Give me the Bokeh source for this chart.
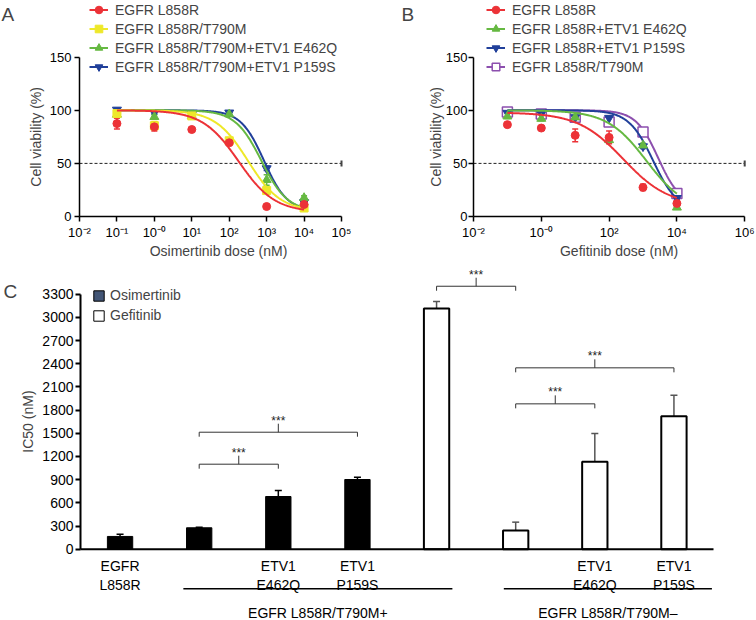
import numpy as np
from bokeh.plotting import figure
from bokeh.models import (Range1d, FixedTicker, Label, Legend, LegendItem, Whisker,
                          TeeHead, ColumnDataSource)
from bokeh.layouts import column, row
from bokeh.embed import file_html
from bokeh.resources import INLINE
from bokeh.core.properties import value

FONT = "Liberation Sans"

# ---------------- Panel A : Osimertinib dose response ----------------
doses = [0.1, 1, 10, 100, 1000, 10000]
a_labels = ["EGFR L858R", "EGFR L858R/T790M",
            "EGFR L858R/T790M+ETV1 E462Q", "EGFR L858R/T790M+ETV1 P159S"]
a_l858r = [87.5, 84.4, 81.9, 69.4, 9.4, 11.3]
a_l858r_err = [5.0, 4.0, 1.5, 1.5, 1.5, 2.0]
a_t790m = [96.9, 85.5, 94.7, 71.3, 24.4, 8.0]
a_t790m_err = [3.0, 4.0, 1.5, 1.5, 2.5, 1.5]
a_e462q = [96.0, 93.8, 94.7, 96.3, 34.4, 17.5]
a_e462q_err = [2.0, 2.0, 2.0, 1.5, 5.0, 2.0]
a_p159s = [100.5, 97.8, 96.0, 97.8, 45.3, 13.4]
a_p159s_err = [1.5, 1.5, 1.5, 1.5, 2.0, 2.0]
# fitted 4-parameter logistic: top, bottom, log10(IC50), Hill slope
a_fit_l858r = [100, 4, 2.25, 0.9]
a_fit_t790m = [100, 5, 2.5, 1.0]
a_fit_e462q = [100, 5, 2.86, 1.25]
a_fit_p159s = [100, 5, 2.93, 1.4]
a_tick_exp = [-2, -1, 0, 1, 2, 3, 4, 5]

# ---------------- Panel B : Gefitinib dose response ----------------
b_labels = ["EGFR L858R", "EGFR L858R+ETV1 E462Q",
            "EGFR L858R+ETV1 P159S", "EGFR L858R/T790M"]
b_l858r = [86.5, 83.3, 76.4, 74.5, 27.4, 12.3]
b_l858r_err = [1.5, 1.5, 6.0, 6.0, 3.0, 3.0]
b_e462q = [94.3, 92.1, 93.4, 72.0, 67.0, 8.5]
b_e462q_err = [2.0, 2.0, 2.0, 2.0, 2.0, 1.5]
b_p159s = [97.5, 96.5, 93.4, 92.8, 66.0, 17.3]
b_p159s_err = [1.5, 1.5, 1.5, 1.5, 2.0, 2.0]
b_t790m = [98.4, 96.5, 93.4, 89.0, 79.6, 21.7]
b_t790m_err = [1.5, 1.5, 1.5, 2.0, 2.0, 2.0]
b_fit_l858r = [98, 10, 2.42, 0.65]
b_fit_e462q = [100, 5, 3.1, 0.75]
b_fit_p159s = [100, 5, 3.3, 1.2]
b_fit_t790m = [100, 10, 3.45, 1.32]
b_tick_exp = [-2, 0, 2, 4, 6]

cutoff = 50
viab_ticks = [0, 50, 100, 150]

# ---------------- Panel C : IC50 bars ----------------
c_osim_pos = [0, 1, 2, 3]
c_osim = [165, 277, 682, 902]
c_osim_err = [30, 6, 78, 30]
c_gef_pos = [4, 5, 6, 7]
c_gef = [3115, 242, 1131, 1721]
c_gef_err = [90, 108, 366, 272]
c_tick_pos = [0, 2, 3, 6, 7]
c_tick_labels = ["EGFR\nL858R", "ETV1\nE462Q", "ETV1\nP159S", "ETV1\nE462Q", "ETV1\nP159S"]
c_groups = ["EGFR L858R/T790M+", "EGFR L858R/T790M\u2013"]
c_group_start = [0.8, 4.85]
c_group_end = [4.2, 7.48]
c_sig_left = [1, 1, 4, 5, 5]
c_sig_right = [2, 3, 5, 6, 7]
c_sig_y = [1100, 1514, 3403, 1881, 2347]
c_sig_text = ["***", "***", "***", "***", "***"]
c_yticks = [0, 300, 600, 900, 1200, 1500, 1800, 2100, 2400, 2700, 3000, 3300]

RED, YELLOW, GREEN, BLUE, PURPLE = "#ec3237", "#eee829", "#66b942", "#21409a", "#8c4fae"

SUP = str.maketrans("-0123456789", "\u207b\u2070\u00b9\u00b2\u00b3\u2074\u2075\u2076\u2077\u2078\u2079")


def pow_label(e):
    return "10" + ("-0" if e == 0 else str(e)).translate(SUP)


def four_pl(x, top, bottom, logc, hill):
    return bottom + (top - bottom) / (1 + 10 ** ((np.log10(x) - logc) * hill))


def style(p, size, lw=1.5):
    p.outline_line_color = None
    p.grid.visible = False
    p.background_fill_color = "white"
    p.border_fill_color = "white"
    for ax in p.axis:
        ax.axis_line_width = lw
        ax.axis_line_color = "black"
        ax.major_tick_line_width = lw
        ax.major_tick_line_color = "black"
        ax.major_tick_out = 5
        ax.major_tick_in = 0
        ax.minor_tick_out = 0
        ax.minor_tick_in = 0
        ax.major_label_text_font = FONT
        ax.major_label_text_font_size = size
        ax.major_label_text_color = "black"
        ax.major_label_standoff = 3


def add_series(p, y, err, color, marker, size, fit, fill=None, lw=1):
    gx = np.logspace(np.log10(doses[0]), np.log10(doses[-1]), 300)
    lr = p.line(gx, four_pl(gx, *fit), line_color=color, line_width=2)
    yy = np.array(y)
    ee = np.array(err)
    src = ColumnDataSource(dict(x=doses, y=y, lo=yy - ee, hi=yy + ee))
    p.add_layout(Whisker(source=src, base="x", lower="lo", upper="hi",
                         line_color=color, line_width=1.5,
                         upper_head=TeeHead(size=6, line_color=color, line_width=1.5),
                         lower_head=TeeHead(size=6, line_color=color, line_width=1.5)))
    sr = p.scatter("x", "y", source=src, marker=marker, size=size,
                   fill_color=fill if fill is not None else color,
                   line_color=color, line_width=lw)
    return lr, sr


PX_PER_UNIT = 159.3 / 150.0   # vertical pixels per % viability
H_AB = 262
Y0_PX = 216                     # pixel row of 0 %


def dose_panel(width, axis_px, ppd, xend_exp, exps, series, labels, letter, letter_x,
               xtitle, xtitle_off, legend_x, ytitle_off, standoff):
    ytop = Y0_PX / PX_PER_UNIT
    ybot = -(H_AB - Y0_PX) / PX_PER_UNIT
    lo_exp = exps[0] - axis_px / ppd
    hi_exp = exps[0] + (width - axis_px) / ppd
    p = figure(width=width, height=H_AB, x_axis_type="log",
               x_range=Range1d(10.0 ** lo_exp, 10.0 ** hi_exp),
               y_range=Range1d(ybot, ytop), output_backend="svg", toolbar_location=None,
               min_border=0, min_border_left=0, min_border_right=0, min_border_top=0,
               min_border_bottom=0)
    style(p, "13px")
    xmin, xmax = 10.0 ** exps[0], 10.0 ** xend_exp
    p.xaxis.fixed_location = 0
    p.xaxis.bounds = (xmin, xmax)
    p.xaxis.ticker = FixedTicker(ticks=[10.0 ** e for e in exps])
    p.xaxis.major_label_overrides = {10.0 ** e: pow_label(e) for e in exps}
    p.yaxis.fixed_location = xmin
    p.yaxis.ticker = FixedTicker(ticks=viab_ticks)
    p.yaxis.bounds = (viab_ticks[0], viab_ticks[-1])
    p.yaxis.major_label_standoff = standoff
    p.segment(x0=[xmin], x1=[xmax], y0=[cutoff], y1=[cutoff], line_color="#222222",
              line_width=1, line_dash="3 2")
    p.scatter(x=[xmax], y=[cutoff], marker="dash", angle=np.pi / 2,
              size=6, line_color="#444444", line_width=2)
    rends = []
    for s in reversed(series):
        rends.append(add_series(p, *s))
    rends = rends[::-1]
    items = [LegendItem(label=lab, renderers=list(r)) for lab, r in zip(labels, rends)]
    leg = Legend(items=items, location=(legend_x, H_AB - 76), glyph_width=19, glyph_height=19,
                 label_height=19, label_standoff=7, spacing=0, padding=0, margin=0,
                 label_text_font=FONT, label_text_font_size="14px",
                 border_line_alpha=0, background_fill_alpha=0)
    p.add_layout(leg)
    xmid = 10.0 ** ((exps[0] + xend_exp) / 2)
    p.add_layout(Label(x=xmid, y=0, x_offset=xtitle_off, y_offset=-34, text=xtitle,
                       text_align="center", text_baseline="middle", text_font=FONT,
                       text_font_size="14px"))
    p.add_layout(Label(x=xmin, y=75, x_offset=ytitle_off, text="Cell viability (%)",
                       angle=np.pi / 2, text_align="center", text_baseline="middle",
                       text_font=FONT, text_font_size="14px"))
    p.add_layout(Label(x=10.0 ** lo_exp, y=ytop, x_offset=letter_x, y_offset=-3,
                       text=letter, text_align="left", text_baseline="top",
                       text_font=FONT, text_font_size="19px"))
    return p


a_series = [
    (a_l858r, a_l858r_err, RED, "circle", 8, a_fit_l858r),
    (a_t790m, a_t790m_err, YELLOW, "square", 8, a_fit_t790m),
    (a_e462q, a_e462q_err, GREEN, "triangle", 9, a_fit_e462q),
    (a_p159s, a_p159s_err, BLUE, "inverted_triangle", 9, a_fit_p159s),
]
b_series = [
    (b_l858r, b_l858r_err, RED, "circle", 8, b_fit_l858r),
    (b_e462q, b_e462q_err, GREEN, "triangle", 9, b_fit_e462q),
    (b_p159s, b_p159s_err, BLUE, "inverted_triangle", 9, b_fit_p159s),
    (b_t790m, b_t790m_err, PURPLE, "square", 10, b_fit_t790m, "white", 1.5),
]

pA = dose_panel(376, 79, 37.43, 5, a_tick_exp, a_series, a_labels, "A", 1,
                "Osimertinib dose (nM)", 8, 89, -44, 3)
pB = dose_panel(380, 97, 33.9, 6, b_tick_exp, b_series, b_labels, "B", 25,
                "Gefitinib dose (nM)", 10, 110, -38, 1)

# ---------------- Panel C ----------------
U = 3300 / 255.0      # data units per pixel
CH = 358
base_px = 286.7       # pixel row of IC50 = 0 (from top of panel)
ppu = 79.125          # pixels per bar slot
ax_px = 80            # pixel column of y axis
xlo = -0.5 - ax_px / ppu
xhi = -0.5 + (756 - ax_px) / ppu
ytop_c = base_px * U
pC = figure(width=756, height=CH, x_range=Range1d(xlo, xhi),
            y_range=Range1d(-(CH - base_px) * U, ytop_c), x_axis_type=None,
            output_backend="svg", toolbar_location=None,
            min_border=0, min_border_left=0, min_border_right=0, min_border_top=0,
            min_border_bottom=0)
style(pC, "14px", 2)
pC.yaxis.fixed_location = -0.5
pC.yaxis.ticker = FixedTicker(ticks=c_yticks)
pC.yaxis.bounds = (c_yticks[0], c_yticks[-1])
pC.yaxis.major_label_standoff = 2

pC.vbar(x=c_osim_pos, top=c_osim, width=0.32, fill_color="black", line_color="black")
pC.vbar(x=c_gef_pos, top=c_gef, width=0.32, fill_color="white", line_color="black",
        line_width=2)
# baseline of the bar chart
pC.segment(x0=[-0.5], x1=[7.5], y0=[c_yticks[0]], y1=[c_yticks[0]], line_color="black",
           line_width=2)
so = ColumnDataSource(dict(x=c_osim_pos, lo=c_osim,
                           hi=list(np.array(c_osim) + np.array(c_osim_err))))
sg = ColumnDataSource(dict(x=c_gef_pos, lo=c_gef,
                           hi=list(np.array(c_gef) + np.array(c_gef_err))))
pC.add_layout(Whisker(source=so, base="x", lower="lo", upper="hi", line_color="black",
                      line_width=1.5, lower_head=None,
                      upper_head=TeeHead(size=7, line_color="black", line_width=1.5)))
pC.add_layout(Whisker(source=sg, base="x", lower="lo", upper="hi", line_color="#555555",
                      line_width=1.5, lower_head=None,
                      upper_head=TeeHead(size=7, line_color="#555555", line_width=1.5)))

# significance brackets
drop, rise = 4.5 * U, 8.5 * U
bxs, bys, tx, ty = [], [], [], []
for l, r, h in zip(c_sig_left, c_sig_right, c_sig_y):
    bxs.append([l, l, r, r])
    bys.append([h - drop, h, h, h - drop])
    m = (l + r) / 2
    bxs.append([m, m])
    bys.append([h, h + rise])
    tx.append(m)
    ty.append(h + 11.5 * U)
pC.multi_line(bxs, bys, line_color="#333333", line_width=1)
pC.text(x=tx, y=ty, text=c_sig_text, text_align="center", text_baseline="alphabetic",
        text_font=value(FONT), text_font_size="12px", text_color="#222222")

# category labels and groups
pC.text(x=c_tick_pos, y=[-8.5 * U] * len(c_tick_pos), text=c_tick_labels,
        text_align="center", text_baseline="top", text_font=value(FONT),
        text_font_size="14px", text_line_height=1.2)
pC.segment(x0=c_group_start, x1=c_group_end, y0=[-39.6 * U] * 2, y1=[-39.6 * U] * 2,
           line_color="black", line_width=1.5)
pC.text(x=[(a + b) / 2 for a, b in zip(c_group_start, c_group_end)], y=[-56.0 * U] * 2,
        text=c_groups, text_align="center", text_baseline="top",
        text_font=value(FONT), text_font_size="14px")

# legend (swatch renderers sit far outside the visible area)
far_x, far_y = xhi + 50, ytop_c * 5
r_o = pC.vbar(x=[far_x], top=[far_y + 1], bottom=[far_y], width=0.3,
              fill_color="#435676", line_color="black")
r_g = pC.vbar(x=[far_x], top=[far_y + 1], bottom=[far_y], width=0.3,
              fill_color="white", line_color="black")
legC = Legend(items=[LegendItem(label="Osimertinib", renderers=[r_o]),
                     LegendItem(label="Gefitinib", renderers=[r_g])],
              location=(92, CH - 63), glyph_width=13, glyph_height=13, label_height=20,
              label_standoff=5, spacing=0, padding=0, margin=0, label_text_font=FONT,
              label_text_font_size="14px", border_line_alpha=0, background_fill_alpha=0)
pC.add_layout(legC)

pC.add_layout(Label(x=-0.5, y=1652, x_offset=-53, text="IC50 (nM)", angle=np.pi / 2,
                    text_align="center", text_baseline="middle", text_font=FONT,
                    text_font_size="14px"))
pC.add_layout(Label(x=xlo, y=ytop_c, x_offset=3, y_offset=-18, text="C",
                    text_align="left", text_baseline="top", text_font=FONT,
                    text_font_size="19px"))

layout = column(row(pA, pB), pC)
open("out.html", "w").write(file_html(layout, INLINE))
